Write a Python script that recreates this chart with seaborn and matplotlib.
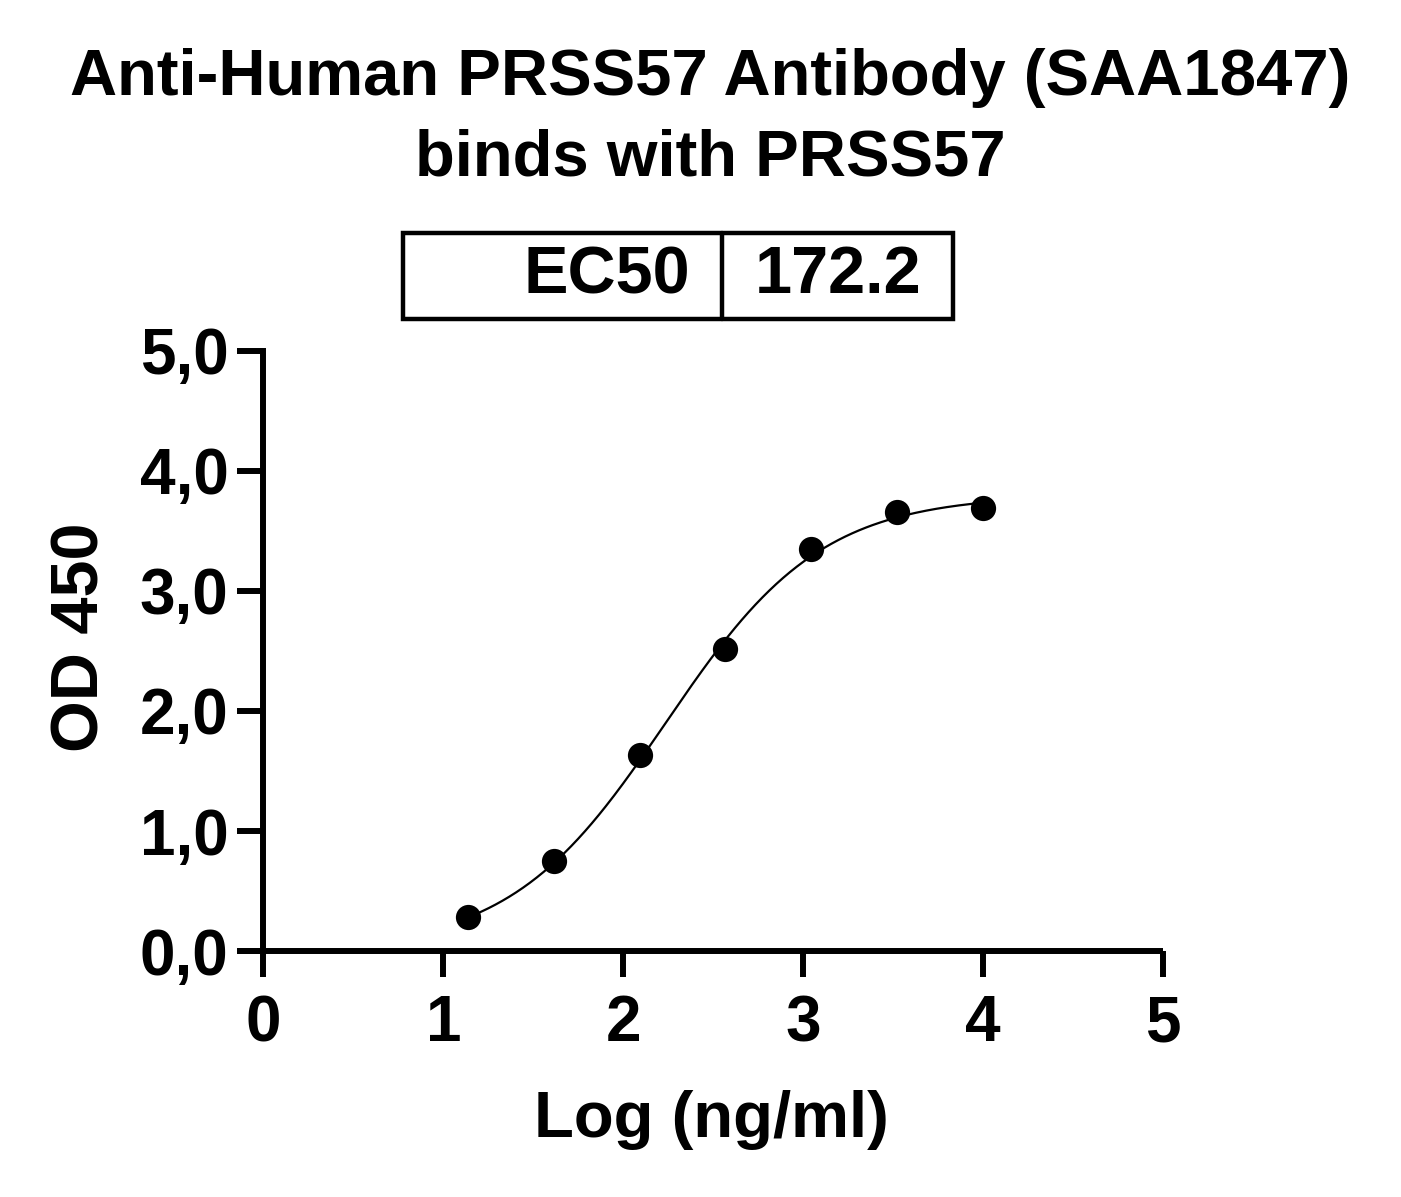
import numpy as np
import pandas as pd
import matplotlib
matplotlib.use("Agg")
import matplotlib.pyplot as plt
import seaborn as sns
from matplotlib.lines import Line2D
from matplotlib.patches import Rectangle

# ---- data ----
log_conc = [1.137, 1.614, 2.091, 2.568, 3.046, 3.523, 4.000]
od450 = [0.28, 0.75, 1.63, 2.52, 3.35, 3.66, 3.69]
# 4PL fit parameters (EC50 shown in chart)
ec50 = 172.2
fit_bottom = 0.0
fit_top = 3.80
fit_hill = 1.0
x_ticks = [0, 1, 2, 3, 4, 5]
y_ticks = [0.0, 1.0, 2.0, 3.0, 4.0, 5.0]
y_tick_labels = ["0,0", "1,0", "2,0", "3,0", "4,0", "5,0"]
title_lines = ["Anti-Human PRSS57 Antibody (SAA1847)", "binds with PRSS57"]

sns.set_style("ticks")
plt.rcParams["font.family"] = ["Liberation Sans", "DejaVu Sans"]
plt.rcParams["font.weight"] = "bold"
plt.rcParams["text.color"] = "black"
plt.rcParams["axes.labelcolor"] = "black"
plt.rcParams["xtick.color"] = "black"
plt.rcParams["ytick.color"] = "black"

fig = plt.figure(figsize=(14.01, 11.97), dpi=100)
fig.patch.set_facecolor("white")
ax = fig.add_axes([0.170, 0.2055, 0.660, 0.5013])

pts = pd.DataFrame({"x": log_conc, "y": od450})
xs = np.linspace(min(log_conc), max(log_conc), 300)
ys = fit_bottom + (fit_top - fit_bottom) / (1 + 10 ** ((np.log10(ec50) - xs) * fit_hill))
curve = pd.DataFrame({"x": xs, "y": ys})

sns.lineplot(data=curve, x="x", y="y", ax=ax, color="black", linewidth=1.6)
sns.scatterplot(data=pts, x="x", y="y", ax=ax, color="black", s=330,
                edgecolor="black", linewidth=0, zorder=5, clip_on=False)

ax.set_xlim(-0.14, 5.0)
ax.set_ylim(0, 5)
ax.spines["left"].set_position(("data", 0))
ax.spines["top"].set_visible(False)
ax.spines["right"].set_visible(False)
for s in ["left", "bottom"]:
    ax.spines[s].set_linewidth(4.3)
    ax.spines[s].set_color("black")
ax.spines["bottom"].set_capstyle("butt")
ax.set_xticks(x_ticks)
ax.set_xticklabels([str(t) for t in x_ticks])
ax.set_yticks(y_ticks)
ax.set_yticklabels(y_tick_labels)
ax.tick_params(axis="both", direction="out", length=19, width=4.3, color="black",
               labelsize=46, labelcolor="black")
ax.tick_params(axis="y", pad=6)
ax.tick_params(axis="x", pad=12)
for lab in ax.get_xticklabels() + ax.get_yticklabels():
    lab.set_fontweight("bold")
ax.set_xlabel("")
ax.set_ylabel("")
ax.set_facecolor("white")

fig.text(0.5075, 0.0643, "Log (ng/ml)", ha="center", va="center", fontsize=47,
         fontweight="bold", color="black")
fig.text(0.058, 0.468, "OD 450", ha="center", va="center", rotation=90, fontsize=48,
         fontweight="bold", color="black")

fig.text(0.507, 0.9348, title_lines[0], ha="center", va="center", fontsize=47,
         fontweight="bold", color="black")
fig.text(0.507, 0.868, title_lines[1], ha="center", va="center", fontsize=47,
         fontweight="bold", color="black")

# EC50 table
tl, tr, tt, tb, tdiv = 0.2877, 0.6802, 0.8053, 0.7335, 0.5153
fig.patches.append(Rectangle((tl, tb), tr - tl, tt - tb, transform=fig.transFigure,
                             fill=False, edgecolor="black", linewidth=3.2))
fig.lines.append(Line2D([tdiv, tdiv], [tb, tt], transform=fig.transFigure,
                        color="black", linewidth=3.2))
fig.text(0.4925, 0.7694, "EC50", ha="right", va="center", fontsize=48,
         fontweight="bold", color="black")
fig.text(0.539, 0.7694, "172.2", ha="left", va="center", fontsize=48,
         fontweight="bold", color="black")

fig.savefig("out.png", dpi=100, facecolor="white")
